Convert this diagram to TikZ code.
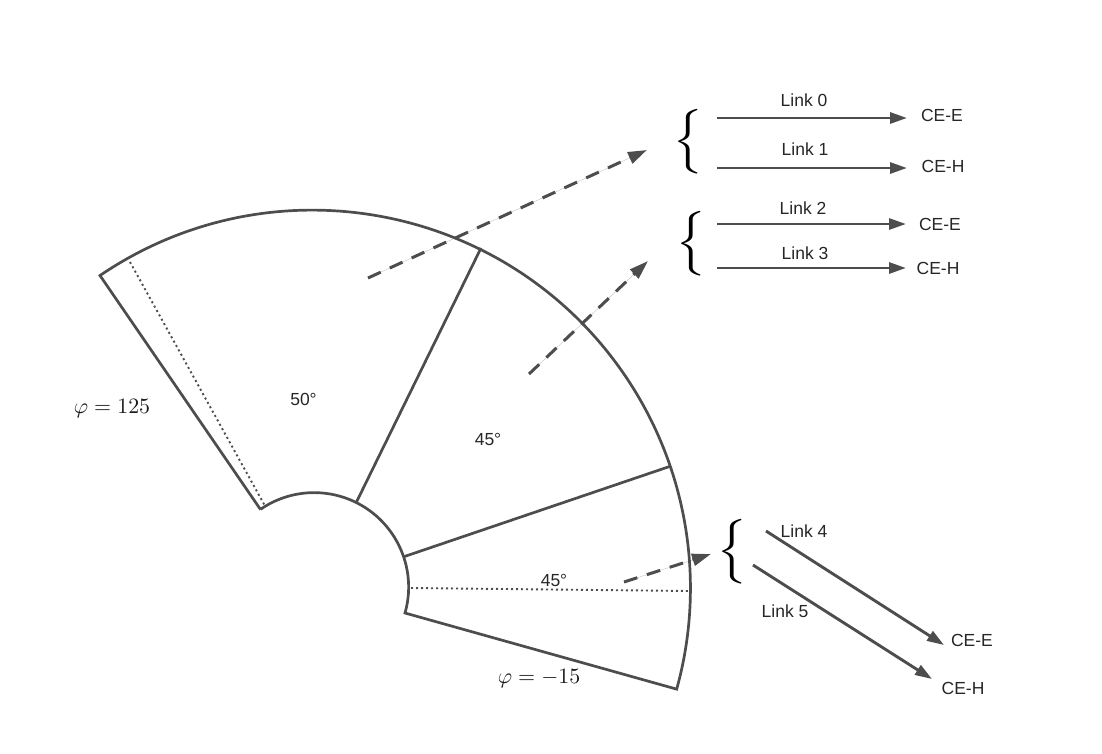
\documentclass[tikz,border=0pt]{standalone}
\usepackage{fontspec}
\setsansfont{Liberation Sans}
\usetikzlibrary{arrows.meta}
\definecolor{linegray}{HTML}{4D4D4D}
\tikzset{
  outline/.style={line width=2.7pt, draw=linegray},
  divider/.style={line width=2.7pt, draw=linegray},
  linkline/.style={line width=2.9pt, draw=linegray, -{Triangle[length=17pt,width=11pt]}, fill=linegray},
  dashline/.style={line width=3pt, draw=linegray, dash pattern=on 14pt off 10pt, -{Triangle[length=19pt,width=12pt]}, fill=linegray},
  dotline/.style={line width=1.9pt, draw=linegray, dash pattern=on 2pt off 3pt},
  txt/.style={font=\sffamily\fontsize{17.5}{20}\selectfont, text=black!85, inner sep=0pt},
  phi/.style={scale=2.19, text=black!90, inner sep=0pt},
  cbrace/.style={scale=5.4, inner sep=0pt}
}
\begin{document}
\begin{tikzpicture}[x=1pt, y=1pt, yscale=-1]
        \useasboundingbox (0,0) rectangle (1102,753);

        % sector
        \coordinate (outerL) at (100,275.5);
        \coordinate (outerR) at (677,689);
        \coordinate (innerL) at (260.5,509.5);
        \coordinate (innerR) at (405,613);
        \draw [outline] (innerL) -- (outerL) arc [start angle=-124.2, end angle=15.5, radius=378]
              -- (innerR) arc [start angle=15.9, end angle=-124.5, radius=94.5];

        % dividers
        \coordinate (divAin) at (356,503);   \coordinate (divAout) at (481,248);
        \coordinate (divBin) at (403,557);   \coordinate (divBout) at (671,466);
        \draw [divider] (divAin) -- (divAout);
        \draw [divider] (divBin) -- (divBout);

        % dotted lines
        \coordinate (dotAs) at (130,262);    \coordinate (dotAe) at (265,506);
        \coordinate (dotBs) at (411,588);    \coordinate (dotBe) at (691,591);
        \draw [dotline] (dotAs) -- (dotAe);
        \draw [dotline] (dotBs) -- (dotBe);

        % sector labels
        \node [txt] (angA)   at (303.5,399) {50°};
        \node [txt] (angB)   at (488,439) {45°};
        \node [txt] (angC)   at (554,580) {45°};
        \node [phi] (phiL)   at (112,409) {$\varphi=125$};
        \node [phi] (phiR)   at (539,679) {$\varphi=-15$};

        % braces
        \node [cbrace] (braceA) at (688,142) {$\big\{$};
        \node [cbrace] (braceB) at (691,244) {$\big\{$};
        \node [cbrace] (braceC) at (732,552) {$\big\{$};

        % dashed arrows towards the braces
        \coordinate (dashAs) at (368,278);   \coordinate (dashAe) at (647,150);
        \coordinate (dashBs) at (529,374);   \coordinate (dashBe) at (648,261);
        \coordinate (dashCs) at (624,582);   \coordinate (dashCe) at (711,554);
        \draw [dashline] (dashAs) -- (dashAe);
        \draw [dashline] (dashBs) -- (dashBe);
        \draw [dashline] (dashCs) -- (dashCe);

        % links
        \coordinate (linkAs) at (717,118);   \coordinate (linkAe) at (907,118);
        \coordinate (linkBs) at (717,168);   \coordinate (linkBe) at (907,168);
        \coordinate (linkCs) at (717,224);   \coordinate (linkCe) at (906,224);
        \coordinate (linkDs) at (717,268);   \coordinate (linkDe) at (906,268);
        \coordinate (linkEs) at (766,531);   \coordinate (linkEe) at (944,645);
        \coordinate (linkFs) at (753,565);   \coordinate (linkFe) at (932,679);
        \draw [linkline] (linkAs) -- (linkAe);
        \draw [linkline] (linkBs) -- (linkBe);
        \draw [linkline] (linkCs) -- (linkCe);
        \draw [linkline] (linkDs) -- (linkDe);
        \draw [linkline] (linkEs) -- (linkEe);
        \draw [linkline] (linkFs) -- (linkFe);

        \node [txt] (lblA) at (804,100) {Link 0};
        \node [txt] (lblB) at (805,149) {Link 1};
        \node [txt] (lblC) at (803,208) {Link 2};
        \node [txt] (lblD) at (805,253) {Link 3};
        \node [txt] (lblE) at (804,531) {Link 4};
        \node [txt] (lblF) at (785,611) {Link 5};

        \node [txt] (ceA) at (942,115) {CE-E};
        \node [txt] (ceB) at (943,166) {CE-H};
        \node [txt] (ceC) at (940,224) {CE-E};
        \node [txt] (ceD) at (938,268) {CE-H};
        \node [txt] (ceE) at (972,640) {CE-E};
        \node [txt] (ceF) at (963,688) {CE-H};
\end{tikzpicture}
\end{document}
